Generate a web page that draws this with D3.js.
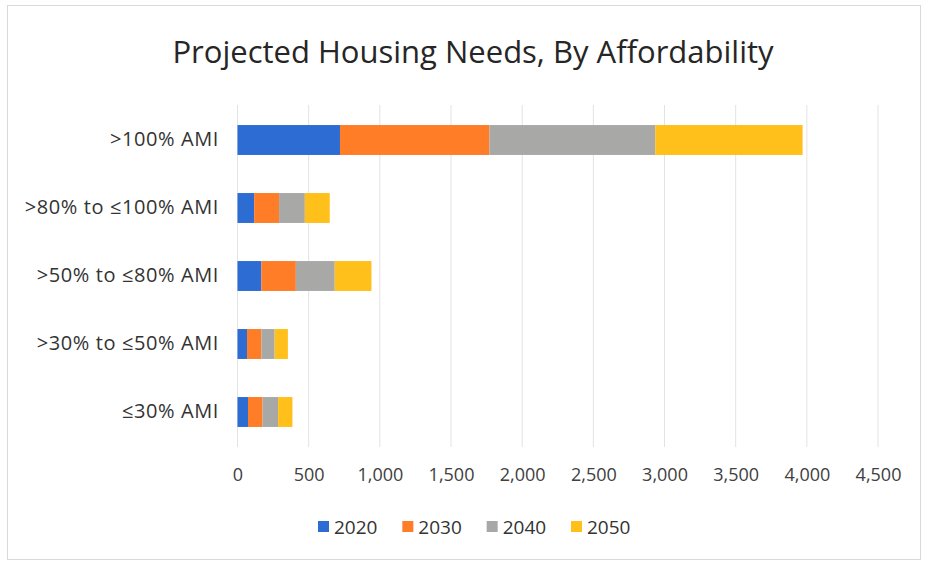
<!DOCTYPE html>
<html>
<head>
<meta charset="utf-8">
<script src="https://cdn.jsdelivr.net/npm/d3@7"></script>
<style>
  html, body { margin: 0; padding: 0; background: #fff; }
  svg { display: block; }
</style>
</head>
<body>
<svg id="chart" width="926" height="566"></svg>
<script>
// Affordability bands (top to bottom) and projected units per decade
const categories = [">100% AMI", ">80% to \u2264100% AMI", ">50% to \u226480% AMI", ">30% to \u226450% AMI", "\u226430% AMI"];
const seriesNames = ["2020", "2030", "2040", "2050"];
const values2020 = [720, 117, 168, 67, 74];
const values2030 = [1050, 175, 242, 101, 102];
const values2040 = [1165, 181, 273, 93, 109];
const values2050 = [1035, 175, 258, 93, 101];
const tickValues = [0, 500, 1000, 1500, 2000, 2500, 3000, 3500, 4000, 4500];
const colors = ["#2d6cd3", "#ff7d26", "#a8a8a6", "#ffc01c"];

const rows = categories.map((c, i) => ({
  category: c,
  "2020": values2020[i],
  "2030": values2030[i],
  "2040": values2040[i],
  "2050": values2050[i]
}));

const svg = d3.select("#chart");
const font = "'Open Sans', 'Noto Sans', sans-serif";

// outer frame
svg.append("rect")
  .attr("x", 7.5).attr("y", 5.5)
  .attr("width", 913).attr("height", 554)
  .attr("fill", "#fff")
  .attr("stroke", "#d9d9d9");

const x = d3.scaleLinear().domain([0, 4500]).range([237.5, 878]);
const y = d3.scaleBand().domain(categories).range([106, 446]).paddingInner(0.56).paddingOuter(0.28);

// gridlines
svg.append("g")
  .selectAll("line")
  .data(tickValues)
  .join("line")
  .attr("x1", d => x(d)).attr("x2", d => x(d))
  .attr("y1", 105).attr("y2", 447)
  .attr("stroke", "#e3e3e3")
  .attr("stroke-width", 1);

// stacked bars
const stack = d3.stack().keys(seriesNames);
const layers = stack(rows);
const color = d3.scaleOrdinal().domain(seriesNames).range(colors);

svg.append("g")
  .selectAll("g")
  .data(layers)
  .join("g")
  .attr("fill", d => color(d.key))
  .selectAll("rect")
  .data(d => d)
  .join("rect")
  .attr("x", d => x(d[0]))
  .attr("width", d => x(d[1]) - x(d[0]))
  .attr("y", d => y(d.data.category))
  .attr("height", y.bandwidth());

// x axis tick labels
const xAxis = d3.axisBottom(x)
  .tickValues(tickValues)
  .tickFormat(d3.format(","))
  .tickSize(0)
  .tickPadding(0);
const gx = svg.append("g").attr("transform", "translate(0,468)").call(xAxis);
gx.select(".domain").remove();
gx.selectAll("text")
  .attr("font-family", font)
  .attr("font-size", 18)
  .attr("fill", "#404040");

// y axis category labels
const yAxis = d3.axisLeft(y).tickSize(0).tickPadding(0);
const gy = svg.append("g").attr("transform", "translate(219,0)").call(yAxis);
gy.select(".domain").remove();
gy.selectAll("text")
  .attr("font-family", font)
  .attr("font-size", 20)
  .attr("letter-spacing", 0.6)
  .attr("fill", "#333");

// title
svg.append("text")
  .attr("x", 473).attr("y", 63)
  .attr("text-anchor", "middle")
  .attr("font-family", font)
  .attr("font-size", 31)
  .attr("fill", "#262626")
  .text("Projected Housing Needs, By Affordability");

// legend
const legendX = d3.scalePoint().domain(seriesNames).range([318, 571]);
const lg = svg.append("g")
  .selectAll("g")
  .data(seriesNames)
  .join("g")
  .attr("transform", d => `translate(${legendX(d)},527)`);
lg.append("rect")
  .attr("x", 0).attr("y", -6)
  .attr("width", 11).attr("height", 11)
  .attr("fill", d => color(d));
lg.append("text")
  .attr("x", 16).attr("y", 0)
  .attr("dy", "0.35em")
  .attr("font-family", font)
  .attr("font-size", 19)
  .attr("fill", "#333")
  .text(d => d);
</script>
</body>
</html>
